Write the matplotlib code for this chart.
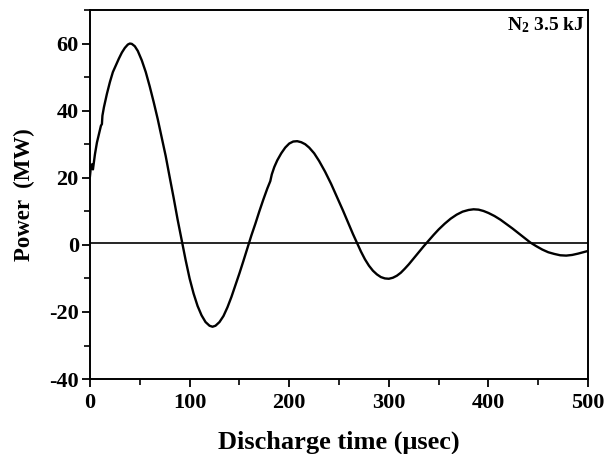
import numpy as np
import matplotlib
matplotlib.use("Agg")
import matplotlib.pyplot as plt
from matplotlib.ticker import MultipleLocator

# discharge time (usec) and power (MW)
time_us = [0, 1, 2, 3, 5, 7, 9, 11, 12, 12.5, 14, 17, 20, 23, 26, 29, 32, 35, 38, 40,
           42, 45, 48, 52, 56, 60, 64, 68, 72, 76, 80, 84, 88, 92, 96, 100, 104, 108,
           112, 116, 120, 123, 126, 130, 134, 138, 142, 146, 150, 154, 158, 162, 166,
           170, 174, 178, 181, 182.5, 185, 188, 192, 196, 200, 204, 208, 212, 216, 220,
           225, 230, 236, 242, 248, 254, 260, 264, 268, 272, 276, 280, 284, 288, 292,
           296, 300, 304, 308, 312, 316, 320, 325, 330, 335, 340, 345, 350, 356, 362,
           368, 374, 380, 385, 390, 395, 400, 406, 412, 418, 424, 430, 436, 442, 448,
           454, 460, 466, 472, 478, 484, 490, 495, 500]
power_mw = [20.5, 23.5, 24, 22.5, 27, 30.5, 33, 35.5, 36, 38.5, 41, 45, 48.5, 51.5, 53.5, 55.5, 57.3, 58.7, 59.7, 60,
            59.9, 59.2, 57.8, 55, 51.5, 47.2, 42.5, 37.5, 32, 26.5, 20.2, 14, 7.5, 1.5, -4.5, -10, -14.5, -18.2,
            -21, -23, -24.1, -24.4, -24.1, -23, -21.2, -18.6, -15.5, -12, -8.5, -4.8, -1, 2.8, 6.3,
            10, 13.5, 16.8, 19, 21, 23.2, 25.2, 27.3, 29, 30.2, 30.8, 30.9, 30.6, 30, 29,
            27.3, 25, 21.8, 18.2, 14.2, 10.2, 6, 3.2, 0.6, -2, -4.3, -6.2, -7.7, -8.8, -9.6,
            -10, -10.1, -9.8, -9.2, -8.3, -7.1, -5.8, -4, -2.2, -0.4, 1.3, 3, 4.6, 6.3, 7.8,
            9, 9.9, 10.4, 10.6, 10.5, 10.1, 9.5, 8.6, 7.5, 6.2, 4.9, 3.5, 2.1, 0.7, -0.4,
            -1.4, -2.2, -2.7, -3.1, -3.2, -3.0, -2.6, -2.2, -1.8]

plt.rcParams['font.family'] = ['Liberation Serif', 'DejaVu Serif']
plt.rcParams['font.weight'] = 'bold'
plt.rcParams['axes.unicode_minus'] = False
plt.rcParams['mathtext.fontset'] = 'custom'
plt.rcParams['mathtext.rm'] = 'Liberation Serif:bold'
plt.rcParams['mathtext.bf'] = 'Liberation Serif:bold'

fig = plt.figure(figsize=(6.12, 4.54), dpi=100)
ax = fig.add_axes([0.147, 0.165, 0.814, 0.813])

ax.plot(time_us, power_mw, color='black', linewidth=1.7)
ax.axhline(0.45, color='black', linewidth=1.2)

ax.set_xlim(0, 500)
ax.set_ylim(-40, 70)
ax.xaxis.set_major_locator(MultipleLocator(100))
ax.xaxis.set_minor_locator(MultipleLocator(50))
ax.yaxis.set_major_locator(MultipleLocator(20))
ax.yaxis.set_minor_locator(MultipleLocator(10))
ax.tick_params(which='major', direction='out', length=6, width=1.3, labelsize=16, pad=2)
ax.tick_params(which='minor', direction='out', length=4, width=1.2)
ax.tick_params(axis='x', which='major', pad=4)
for lbl in ax.get_xticklabels() + ax.get_yticklabels():
    lbl.set_fontweight('bold')
for s in ax.spines.values():
    s.set_linewidth(1.4)

ax.set_xlabel('Discharge time (\u03bcsec)', fontsize=19, fontweight='bold', labelpad=13)
ax.set_ylabel('Power  (MW)', fontsize=16.5, fontweight='bold', labelpad=10)

ax.text(0.993, 0.985, '$\\mathbf{N_2}$ 3.5 kJ', transform=ax.transAxes, ha='right', va='top',
        fontsize=14, fontweight='bold')

fig.savefig('out.png', dpi=100)
